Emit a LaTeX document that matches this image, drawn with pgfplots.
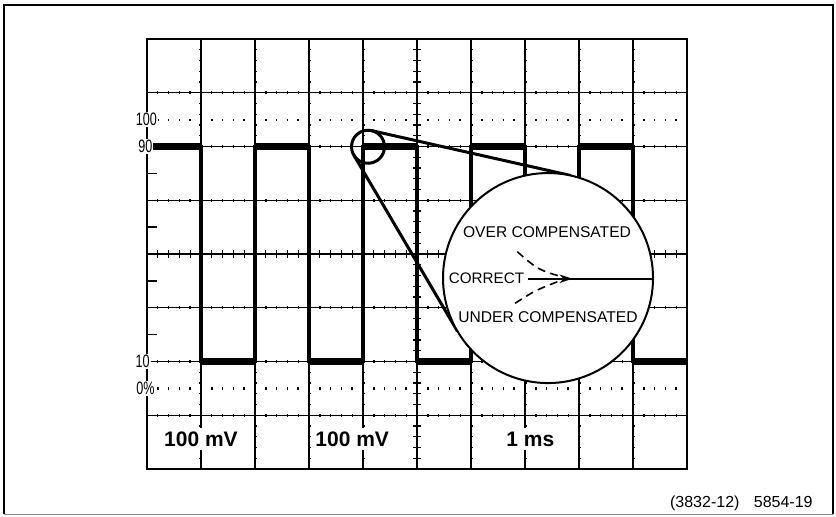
\documentclass[border=0pt]{standalone}
\usepackage{pgfplots}
\pgfplotsset{compat=1.18}
\usepackage{fontspec}
\setmainfont{Liberation Sans}
\usetikzlibrary{arrows.meta}
\newcommand{\lab}[1]{\scalebox{0.7}[1]{#1}}
\begin{document}
\begin{tikzpicture}
\begin{axis}[
  x=27pt, y=26.875pt,
  xmin=0,xmax=10,ymin=0,ymax=8,
  axis line style={line width=0.8pt},
  xtick=\empty, ytick=\empty,
  clip=false,
]
% bounding box of the whole picture
\path (axis cs:-2.722,-0.874) rectangle (axis cs:12.759,8.726);
% outer frame
\addplot[line width=1pt, black] coordinates {(-2.65,-0.84) (-2.65,8.64) (12.70,8.64) (12.70,-0.84)};
\addplot[line width=0.6pt, black!45] coordinates {(-2.65,-0.84) (12.70,-0.84)};
% horizontal graticule lines
\pgfplotsinvokeforeach{1,2,3,5,6,7}{
  \addplot[black, line width=0.7pt] coordinates {(0,#1) (10,#1)};
  \addplot[black, line width=1.5pt, dash pattern=on 0.7pt off 4.7pt, dash phase=0.35pt] coordinates {(0,#1) (10,#1)};
}
% vertical graticule lines
\pgfplotsinvokeforeach{1,2,3,4,6,7,8,9}{
  \addplot[black, line width=0.7pt] coordinates {(#1,0) (#1,8)};
  \addplot[black, line width=1.5pt, dash pattern=on 0.7pt off 4.675pt, dash phase=0.35pt] coordinates {(#1,0) (#1,8)};
}
% centre lines with long cross ticks
\addplot[black, line width=0.7pt] coordinates {(0,4) (10,4)};
\addplot[black, line width=3.6pt, dash pattern=on 0.6pt off 4.8pt, dash phase=0.3pt] coordinates {(0,4) (10,4)};
\addplot[black, line width=0.7pt] coordinates {(5,0) (5,8)};
\addplot[black, line width=3.6pt, dash pattern=on 0.6pt off 4.775pt, dash phase=0.3pt] coordinates {(5,0) (5,8)};
% 100% and 0% dotted lines
\addplot[black, line width=1.1pt, dash pattern=on 0.8pt off 4.6pt, dash phase=0.4pt] coordinates {(0,6.5) (10,6.5)};
\addplot[black, line width=1.1pt, dash pattern=on 0.8pt off 4.6pt, dash phase=0.4pt] coordinates {(0,1.5) (10,1.5)};
% left edge half-division ticks
\addplot[black, line width=0.8pt, unbounded coords=jump] coordinates {(0,5.5) (0.19,5.5) (0.1,nan) (0,4.5) (0.19,4.5) (0.1,nan) (0,3.5) (0.19,3.5) (0.1,nan) (0,2.5) (0.19,2.5)};
% square wave
\addplot[black, line width=1.6pt] coordinates {(0,6)(1,6)(1,2)(2,2)(2,6)(3,6)(3,2)(4,2)(4,6)(5,6)(5,2)(6,2)(6,6)(7,6)(7,2)(8,2)(8,6)(9,6)(9,2)(10,2)};
\addplot[black, line width=3.4pt, unbounded coords=jump] coordinates {(0,6)(1,6)(1,nan)(2,6)(3,6)(3,nan)(4,6)(5,6)(5,nan)(6,6)(7,6)(7,nan)(8,6)(9,6)};
\addplot[black, line width=3.4pt, unbounded coords=jump] coordinates {(1,2)(2,2)(2,nan)(3,2)(4,2)(4,nan)(5,2)(6,2)(6,nan)(7,2)(8,2)(8,nan)(9,2)(10,2)};
% left labels
\node[fill=white, inner sep=0.5pt, font=\fontsize{9}{10}\selectfont] at (axis cs:-0.01,6.5) {\lab{100}};
\node[fill=white, inner sep=0.5pt, font=\fontsize{9}{10}\selectfont] at (axis cs:-0.03,6.0) {\lab{90}};
\node[fill=white, inner sep=0.5pt, font=\fontsize{9}{10}\selectfont] at (axis cs:-0.08,2.0) {\lab{10}};
\node[fill=white, inner sep=0.5pt, font=\fontsize{9}{10}\selectfont] at (axis cs:-0.03,1.5) {\lab{0\%}};
% bottom labels
\node[fill=white, inner sep=2pt, font=\fontsize{10.5}{12}\selectfont\bfseries] at (axis cs:1.0,0.56) {100 mV};
\node[fill=white, inner sep=2pt, font=\fontsize{10.5}{12}\selectfont\bfseries] at (axis cs:3.8,0.56) {100 mV};
\node[fill=white, inner sep=2pt, font=\fontsize{10.5}{12}\selectfont\bfseries] at (axis cs:7.1,0.56) {1 ms};
% magnifier tangent lines
\addplot[black, line width=1.5pt] coordinates {(4.159,6.296) (7.854,5.459)};
\addplot[black, line width=1.5pt] coordinates {(3.830,5.840) (5.750,2.562)};
% big circle
\draw[line width=1pt, fill=white] (axis cs:7.426,3.553) circle[radius=52.5pt];
% small circle
\draw[line width=1.5pt] (axis cs:4.093,5.996) circle[radius=8.25pt];
% texts in the circle
\node[font=\fontsize{7.8}{9}\selectfont] at (axis cs:7.407,4.415) {OVER COMPENSATED};
\node[font=\fontsize{7.8}{9}\selectfont] at (axis cs:7.426,2.833) {UNDER COMPENSATED};
\node[font=\fontsize{7.6}{9}\selectfont, anchor=east, inner sep=0pt] at (axis cs:6.99,3.54) {CORRECT};
\addplot[black, line width=0.9pt] coordinates {(7.70,3.54) (9.37,3.54)};
\draw[line width=0.9pt, -{Stealth[length=6.5pt,width=4.2pt]}] (axis cs:7.056,3.54) -- (axis cs:7.88,3.54);
\draw[line width=0.8pt, dash pattern=on 4pt off 2.6pt] (axis cs:6.857,4.043) .. controls (axis cs:7.25,3.70) .. (axis cs:7.78,3.55);
\draw[line width=0.8pt, dash pattern=on 4pt off 2.6pt] (axis cs:6.815,3.083) .. controls (axis cs:7.20,3.33) .. (axis cs:7.72,3.53);
% footer
\node[anchor=east, font=\fontsize{8}{9.6}\selectfont, inner sep=0pt] at (axis cs:12.333,-0.633) {(3832-12)\hspace{0.9em}5854-19};
\end{axis}
\end{tikzpicture}
\end{document}
